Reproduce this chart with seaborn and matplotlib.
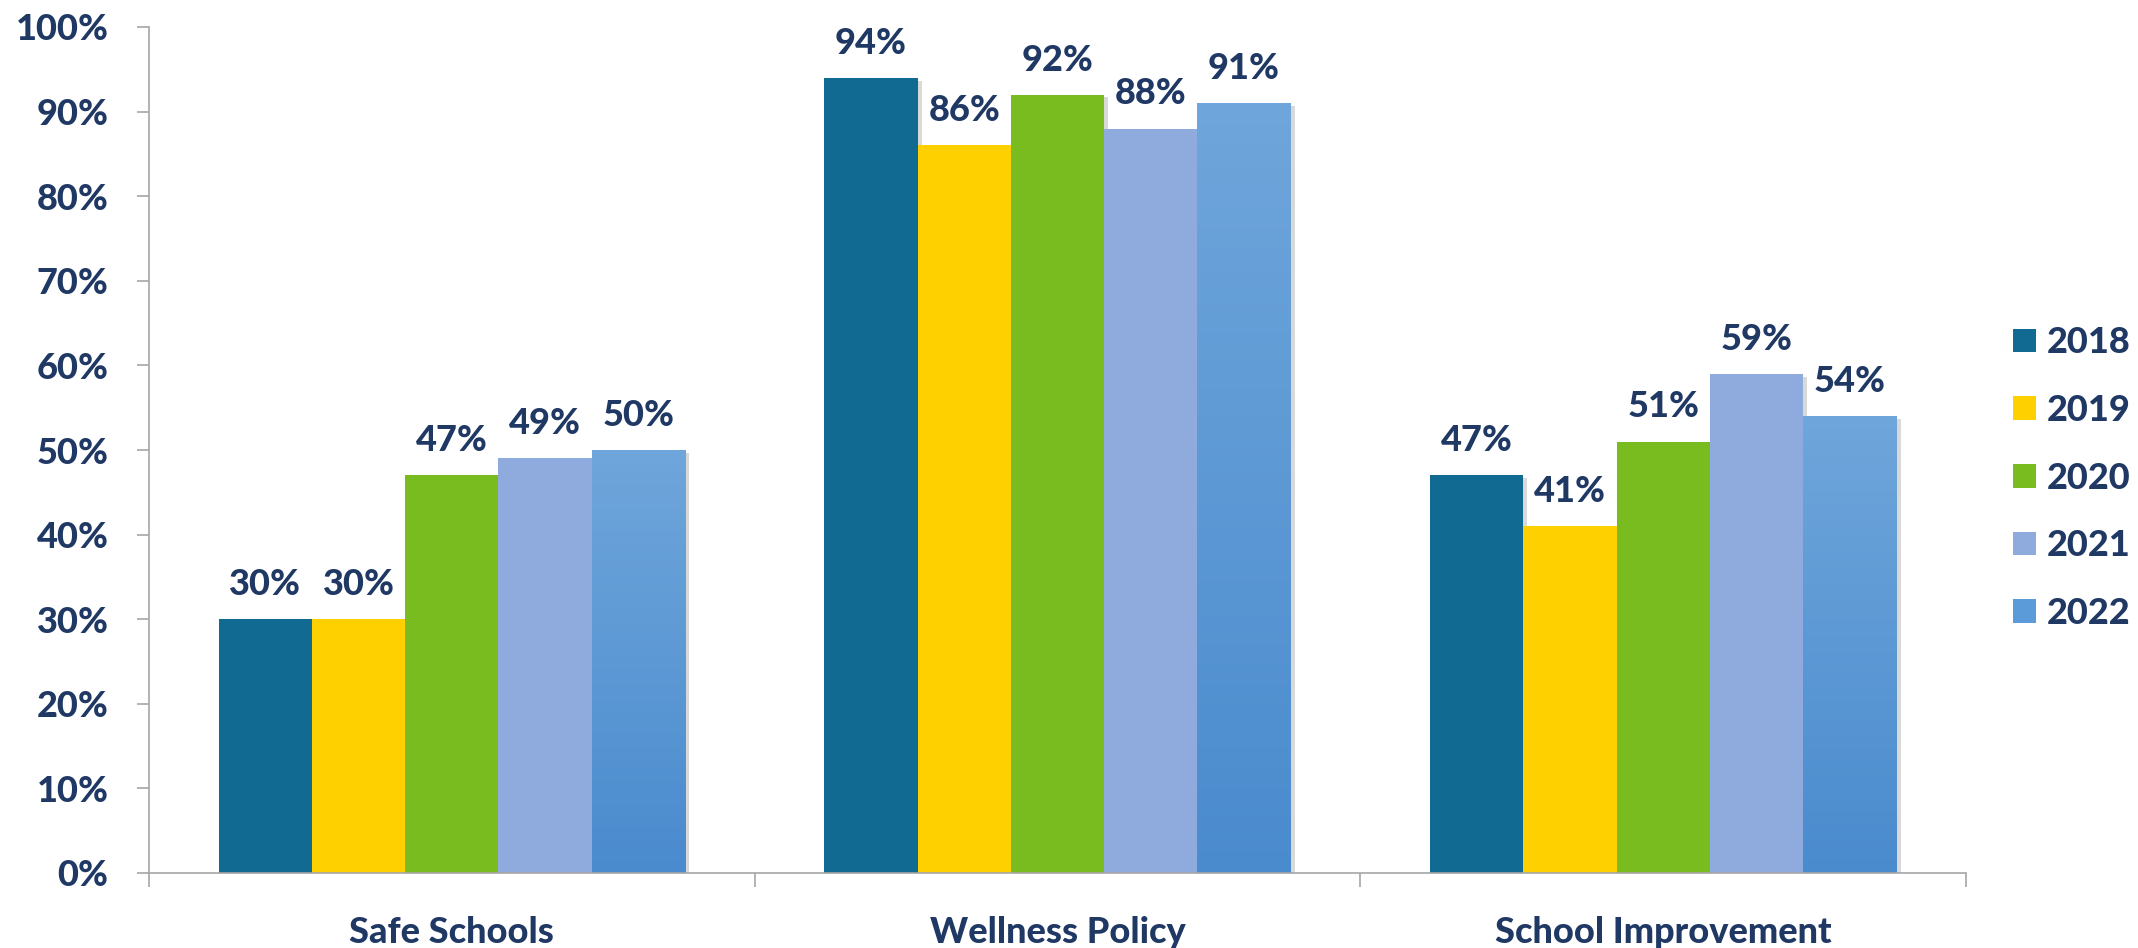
import matplotlib.pyplot as plt
import matplotlib.patheffects as pe
import numpy as np
import pandas as pd
import seaborn as sns
from matplotlib.colors import LinearSegmentedColormap
from matplotlib.patches import Patch

# Data
categories = ["Safe Schools", "Wellness Policy", "School Improvement"]
years = ["2018", "2019", "2020", "2021", "2022"]
values_2018 = [30, 94, 47]
values_2019 = [30, 86, 41]
values_2020 = [47, 92, 51]
values_2021 = [49, 88, 59]
values_2022 = [50, 91, 54]

colors = ["#106A91", "#FFD000", "#78BC20", "#8FAADC", "#5B9BD9"]
text_color = "#1F3864"
axis_color = "#A6A6A6"

series = [values_2018, values_2019, values_2020, values_2021, values_2022]
rows = []
for year, vals in zip(years, series):
    for cat, v in zip(categories, vals):
        rows.append({"category": cat, "year": year, "value": v})
df = pd.DataFrame(rows)

sns.set_style("white")
plt.rcParams["font.family"] = ["Lato", "DejaVu Sans"]
font_kw = dict(fontsize=26, fontweight="black", color=text_color)

fig = plt.figure(figsize=(21.38, 9.48), dpi=100)
ax = fig.add_axes([149 / 2138, 1 - 873 / 948, (1966 - 149) / 2138, (873 - 27) / 948])

sns.barplot(
    data=df,
    x="category",
    y="value",
    hue="year",
    order=categories,
    hue_order=years,
    palette=colors,
    saturation=1,
    width=0.77,
    linewidth=0,
    ax=ax,
    legend=False,
)

# soft shadow under the bars
for container in ax.containers:
    for bar in container:
        bar.set_path_effects(
            [pe.SimplePatchShadow(offset=(3, -2), shadow_rgbFace="k", alpha=0.15), pe.Normal()]
        )

# gradient fill on the 2022 bars
grad_cmap = LinearSegmentedColormap.from_list("g2022", ["#4A8BCE", "#6FA6DB"])
grad = np.linspace(0, 1, 256).reshape(-1, 1)
for bar in ax.containers[4]:
    x0, w, h = bar.get_x(), bar.get_width(), bar.get_height()
    im = ax.imshow(
        grad,
        cmap=grad_cmap,
        extent=[x0, x0 + w, 0, h],
        origin="lower",
        aspect="auto",
        zorder=bar.get_zorder() + 0.1,
    )
    im.set_clip_path(bar)

# value labels
for container in ax.containers:
    ax.bar_label(container, fmt=lambda v: f"{v:.0f}%", padding=13, **font_kw)

ax.set_xlim(-0.5, 2.5)
ax.set_ylim(0, 100)
ax.set_yticks(range(0, 101, 10))
ax.set_yticklabels([f"{t}%" for t in range(0, 101, 10)], **font_kw)
ax.set_xticks(range(len(categories)))
ax.set_xticklabels(categories, **font_kw)
ax.set_xticks([-0.5, 0.5, 1.5, 2.5], minor=True)
ax.set_xlabel("")
ax.set_ylabel("")

ax.tick_params(axis="y", length=9, width=1.2, color=axis_color, pad=20, direction="out", left=True)
ax.tick_params(axis="x", which="major", length=0, pad=31)
ax.tick_params(axis="x", which="minor", length=10, width=1.2, color=axis_color, direction="out", bottom=True)

sns.despine(ax=ax)
for side in ["left", "bottom"]:
    ax.spines[side].set_color(axis_color)
    ax.spines[side].set_linewidth(1.2)

handles = [Patch(facecolor=c, edgecolor="none") for c in colors]
leg = fig.legend(
    handles,
    years,
    loc="center left",
    bbox_to_anchor=(2013 / 2138, 1 - 478 / 948),
    frameon=False,
    borderpad=0,
    borderaxespad=0,
    handlelength=0.64,
    handleheight=0.64,
    handletextpad=0.3,
    labelspacing=0.96,
    prop={"size": 26, "weight": "black"},
)
for t in leg.get_texts():
    t.set_color(text_color)

fig.savefig("out.png", dpi=100)
